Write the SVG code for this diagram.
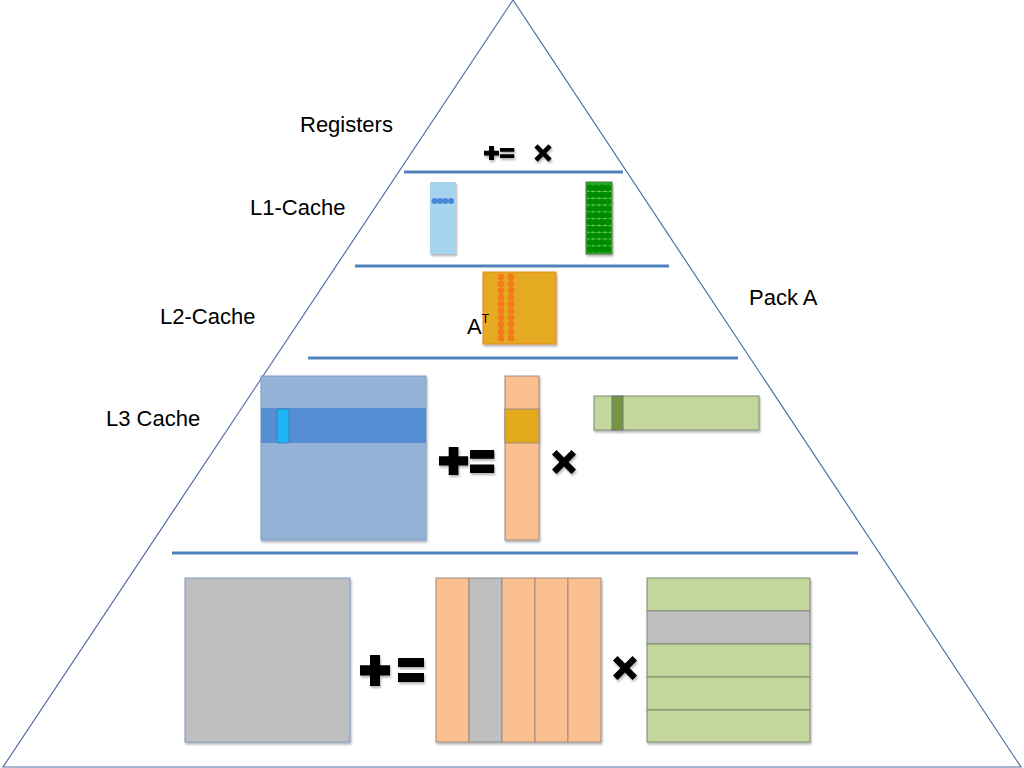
<svg xmlns="http://www.w3.org/2000/svg" xmlns:xlink="http://www.w3.org/1999/xlink" width="1024" height="768" viewBox="0 0 1024 768">
<style>
.lbl{font-family:"Liberation Sans",Arial,sans-serif;font-size:22px;fill:#000}
.sep{stroke:#4f81bd;stroke-width:3;fill:none}
.sym{fill:#000}
.orange{fill:#fac090;stroke:#a08a80;stroke-width:1}
.gray{fill:#bfbfbf;stroke:#8a8a8a;stroke-width:1}
.green{fill:#c3d69b;stroke:#7f8a70;stroke-width:1}
</style>
<defs>
<filter id="sh" x="-10%" y="-10%" width="130%" height="130%">
<feDropShadow dx="1" dy="2" stdDeviation="1.2" flood-color="#000" flood-opacity="0.3"/>
</filter>
<path id="plus" d="M10 0h10v10h10v10h-10v10h-10v-10h-10v-10h10z"/>
<path id="eq" d="M0 0h26v9h-26z M0 15h26v9h-26z"/>
<path id="mul" d="M-7.5 -12 L0 -4.5 L7.5 -12 L12 -7.5 L4.5 0 L12 7.5 L7.5 12 L0 4.5 L-7.5 12 L-12 7.5 L-4.5 0 L-12 -7.5 Z"/>
</defs>
<rect width="1024" height="768" fill="#fff"/>
<g id="pyramid">
<path d="M513 0 L3 767 L1021 767 Z" fill="none" stroke="#4f6fa8" stroke-width="1.2"/>
</g>
<g id="connectors">
<line class="sep" x1="404" y1="172" x2="623" y2="172"/>
<line class="sep" x1="355" y1="266" x2="669" y2="266"/>
<line class="sep" x1="308" y1="358" x2="738" y2="358"/>
<line class="sep" x1="172" y1="553" x2="858" y2="553"/>
</g>
<g id="registers" filter="url(#sh)">
<use href="#plus" class="sym" transform="translate(484,146) scale(0.5,0.47)"/>
<use href="#eq" class="sym" transform="translate(500,148) scale(0.55,0.42)"/>
<use href="#mul" class="sym" transform="translate(543,153) scale(0.72)"/>
</g>
<g id="l1-a" filter="url(#sh)">
<rect x="430" y="182" width="26" height="72" fill="#a6d3ef"/>
<g fill="#4a86d8"><circle cx="434.5" cy="201" r="3"/><circle cx="440" cy="201" r="3"/><circle cx="445.5" cy="201" r="3"/><circle cx="451" cy="201" r="3"/></g>
</g>
<g id="l1-b" filter="url(#sh)">
<rect x="586" y="182" width="26" height="72" fill="#22a822" stroke="#4e7a3e" stroke-width="1"/>
<g stroke="#66cc55" stroke-width="1">
<line x1="587" y1="191.5" x2="611" y2="191.5"/><line x1="587" y1="198.3" x2="611" y2="198.3"/><line x1="587" y1="205.1" x2="611" y2="205.1"/><line x1="587" y1="211.9" x2="611" y2="211.9"/><line x1="587" y1="218.7" x2="611" y2="218.7"/><line x1="587" y1="225.5" x2="611" y2="225.5"/><line x1="587" y1="232.3" x2="611" y2="232.3"/><line x1="587" y1="239.1" x2="611" y2="239.1"/><line x1="587" y1="245.9" x2="611" y2="245.9"/>
</g>
<g fill="#008a00">
<g id="grow"><circle cx="590" cy="188" r="3.2"/><circle cx="596" cy="188" r="3.2"/><circle cx="602" cy="188" r="3.2"/><circle cx="608" cy="188" r="3.2"/></g>
<use href="#grow" y="6.8"/><use href="#grow" y="13.6"/><use href="#grow" y="20.4"/><use href="#grow" y="27.2"/><use href="#grow" y="34"/><use href="#grow" y="40.8"/><use href="#grow" y="47.6"/><use href="#grow" y="54.4"/><use href="#grow" y="61.2"/>
</g>
</g>
<g id="l2-pack" filter="url(#sh)">
<rect x="483" y="272" width="73" height="72" fill="#e4aa22" stroke="#e8821e" stroke-width="1"/>
<g fill="#f57a1a">
<g id="orow"><circle cx="501" cy="277" r="3.4"/><circle cx="511" cy="277" r="3.4"/></g>
<use href="#orow" y="6.8"/><use href="#orow" y="13.6"/><use href="#orow" y="20.4"/><use href="#orow" y="27.2"/><use href="#orow" y="34"/><use href="#orow" y="40.8"/><use href="#orow" y="47.6"/><use href="#orow" y="54.4"/><use href="#orow" y="61.2"/>
</g>
</g>
<g id="l3-c" filter="url(#sh)">
<rect x="261" y="376" width="165" height="164" fill="#95b3d7" stroke="#7a9cc6" stroke-width="1"/>
<rect x="261" y="408" width="165" height="35" fill="#558ed5"/>
<rect x="277" y="409" width="12" height="34" rx="2" fill="#1fb4f5" stroke="#3a78b0" stroke-width="0.8"/>
</g>
<g id="l3-ops" filter="url(#sh)">
<use href="#plus" class="sym" transform="translate(439,447) scale(0.97,0.93)"/>
<use href="#eq" class="sym" transform="translate(470,450) scale(0.93,0.96)"/>
<use href="#mul" class="sym" transform="translate(564,462)"/>
</g>
<g id="l3-a" filter="url(#sh)">
<rect x="505" y="376" width="34" height="164" class="orange"/>
<rect x="505" y="409" width="34" height="34" fill="#e3aa1e" stroke="#a08a80" stroke-width="1"/>
</g>
<g id="l3-b" filter="url(#sh)">
<rect x="594" y="396" width="165" height="34" class="green"/>
<rect x="612" y="396" width="11" height="34" fill="#77933c" stroke="#6a7a7a" stroke-width="1"/>
</g>
<g id="mem-c" filter="url(#sh)">
<rect x="185" y="578" width="165" height="164" fill="#bfbfbf" stroke="#7a9cc6" stroke-width="1"/>
</g>
<g id="mem-ops" filter="url(#sh)">
<use href="#plus" class="sym" transform="translate(360,655) scale(1,1.03)"/>
<use href="#eq" class="sym" transform="translate(398,658)"/>
<use href="#mul" class="sym" transform="translate(625,668)"/>
</g>
<g id="mem-a" filter="url(#sh)">
<rect x="436" y="578" width="33" height="164" class="orange"/>
<rect x="469" y="578" width="33" height="164" class="gray"/>
<rect x="502" y="578" width="33" height="164" class="orange"/>
<rect x="535" y="578" width="33" height="164" class="orange"/>
<rect x="568" y="578" width="33" height="164" class="orange"/>
</g>
<g id="mem-b" filter="url(#sh)">
<rect x="647" y="578" width="163" height="33" class="green"/>
<rect x="647" y="611" width="163" height="33" class="gray"/>
<rect x="647" y="644" width="163" height="33" class="green"/>
<rect x="647" y="677" width="163" height="33" class="green"/>
<rect x="647" y="710" width="163" height="32" class="green"/>
</g>
<g id="labels">
<text class="lbl" x="300" y="132">Registers</text>
<text class="lbl" x="250" y="215">L1-Cache</text>
<text class="lbl" x="160" y="324">L2-Cache</text>
<text class="lbl" x="106" y="426">L3 Cache</text>
<text class="lbl" x="749" y="305">Pack A</text>
<text class="lbl" x="467" y="334" font-size="21">A<tspan font-size="12" dy="-11">T</tspan></text>
</g>
</svg>
